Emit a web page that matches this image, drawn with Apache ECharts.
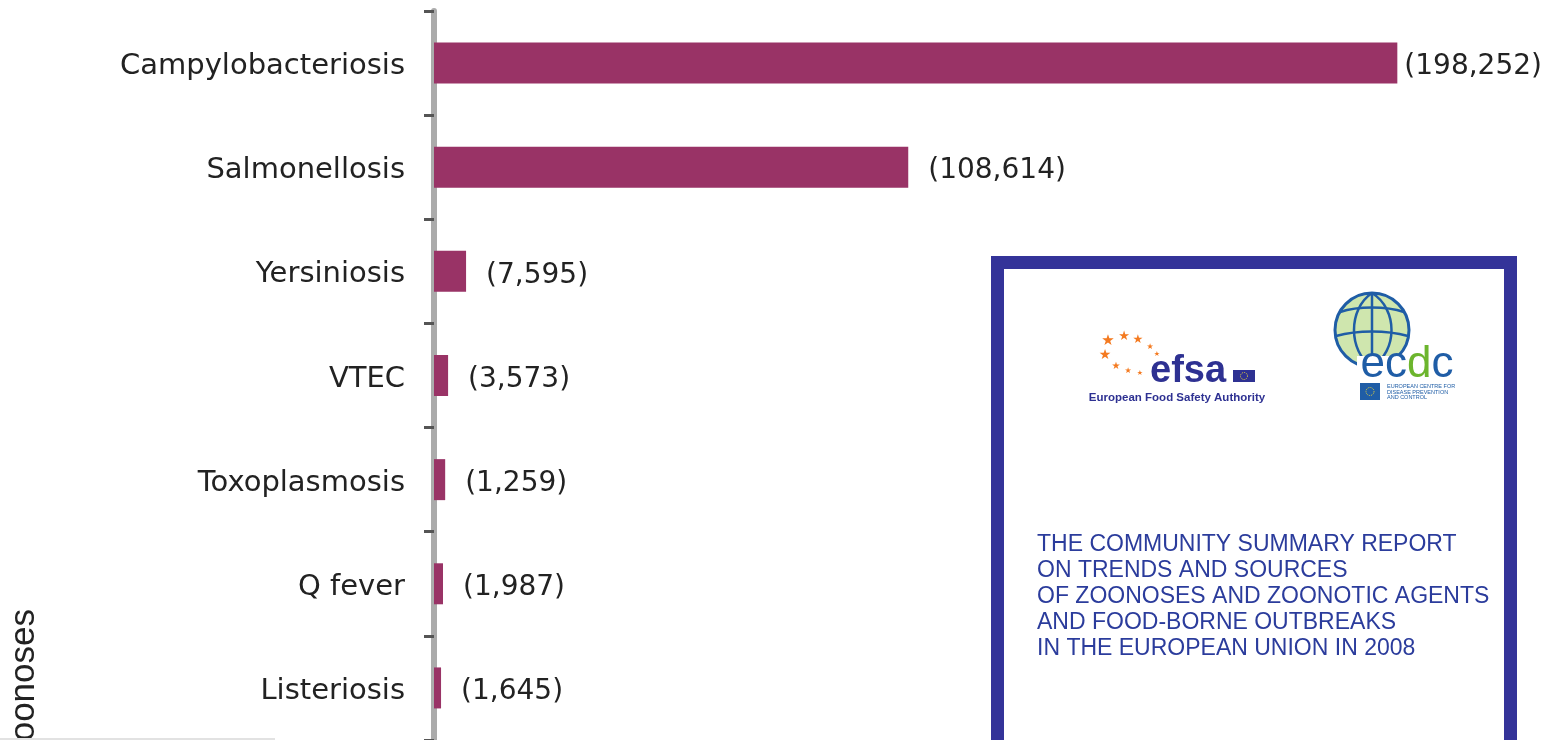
<!DOCTYPE html>
<html>
<head>
  <meta charset="utf-8" />
  <title>Zoonoses cases in the EU, 2008</title>
  <script src="https://cdn.jsdelivr.net/npm/echarts@6/dist/echarts.min.js"></script>
  <style>
    html, body { margin: 0; padding: 0; background: #fff; }
  </style>
</head>
<body>
  <div id="chart" style="width:1551px;height:740px;"></div>
  <script type="text/javascript">

    // Data
    let categories = ['Campylobacteriosis', 'Salmonellosis', 'Yersiniosis', 'VTEC',
      'Toxoplasmosis', 'Q fever', 'Listeriosis'];
    // bar lengths as drawn in the picture
    let barValues = [198252, 97600, 6600, 2900, 2300, 1850, 1450];
    // reported numbers printed next to the bars
    let caseLabels = ['(198,252)', '(108,614)', '(7,595)', '(3,573)', '(1,259)', '(1,987)', '(1,645)'];

    let reportTitle = 'THE COMMUNITY SUMMARY REPORT\nON TRENDS AND SOURCES\nOF ZOONOSES AND ZOONOTIC AGENTS\nAND FOOD-BORNE OUTBREAKS\nIN THE EUROPEAN UNION IN 2008';

    var chart = echarts.init(document.getElementById('chart'));

    var blue = '#2e3192';
    var ecdcBlue = '#1f5da6';
    var ecdcGreen = '#6cb52d';
    var orange = '#f47a20';

    // efsa stars, around the "e"
    var stars = [
      [1108, 341, 15], [1124, 337, 13], [1138, 340, 12], [1105, 355, 14],
      [1150, 347, 8], [1157, 354, 7], [1116, 366, 10], [1128, 371, 8], [1140, 373, 7]
    ];

    var graphics = [
      // rotated axis title, cut off at the bottom
      {
        type: 'text', x: 24, y: 609, rotation: Math.PI / 2, z: 10,
        style: {
          text: 'Zoonoses', fontFamily: 'Liberation Sans', fontSize: 35, fill: '#222',
          align: 'right', verticalAlign: 'middle'
        }
      },
      {
        type: 'line', z: 10,
        shape: { x1: 0, y1: 739, x2: 275, y2: 739 },
        style: { stroke: '#e2e2e2', lineWidth: 2 }
      },
      // report cover frame
      {
        type: 'rect', z: 10,
        shape: { x: 997.5, y: 262.5, width: 513, height: 600 },
        style: { fill: '#fff', stroke: '#343399', lineWidth: 13 }
      },
      {
        type: 'text', x: 1037, y: 532, z: 11,
        style: {
          text: reportTitle, fontFamily: 'Liberation Sans', fontSize: 23, lineHeight: 26,
          fill: '#2b3c9c', align: 'left', verticalAlign: 'top'
        }
      },
      // efsa logo
      {
        type: 'text', x: 1150, y: 391, z: 11,
        style: {
          text: 'efsa', fontFamily: 'Liberation Sans', fontSize: 38, fontWeight: 'bold', fill: blue,
          align: 'left', verticalAlign: 'bottom'
        }
      },
      {
        type: 'rect', z: 11,
        shape: { x: 1233, y: 370, width: 22, height: 12 },
        style: { fill: blue }
      },
      {
        type: 'circle', z: 12,
        shape: { cx: 1244, cy: 376, r: 3.5 },
        style: { fill: 'none', stroke: '#e8d43a', lineWidth: 1, lineDash: [1, 1] }
      },
      {
        type: 'text', x: 1177, y: 398, z: 11,
        style: {
          text: 'European Food Safety Authority', fontFamily: 'Liberation Sans', fontSize: 11.5,
          fontWeight: 'bold', fill: blue, align: 'center', verticalAlign: 'middle'
        }
      },
      // ecdc logo: globe
      {
        type: 'circle', z: 11,
        shape: { cx: 1372, cy: 330, r: 37 },
        style: { fill: '#cfe6ae', stroke: ecdcBlue, lineWidth: 3 }
      },
      {
        type: 'bezierCurve', z: 12,
        shape: { x1: 1372, y1: 293, x2: 1372, y2: 367, cpx1: 1348, cpy1: 309, cpx2: 1348, cpy2: 351 },
        style: { stroke: ecdcBlue, lineWidth: 2.5, fill: 'none' }
      },
      {
        type: 'bezierCurve', z: 12,
        shape: { x1: 1372, y1: 293, x2: 1372, y2: 367, cpx1: 1398, cpy1: 309, cpx2: 1398, cpy2: 351 },
        style: { stroke: ecdcBlue, lineWidth: 2.5, fill: 'none' }
      },
      {
        type: 'line', z: 12,
        shape: { x1: 1372, y1: 293, x2: 1372, y2: 367 },
        style: { stroke: ecdcBlue, lineWidth: 2.5 }
      },
      {
        type: 'bezierCurve', z: 12,
        shape: { x1: 1340, y1: 312, x2: 1404, y2: 312, cpx1: 1358, cpy1: 306, cpx2: 1386, cpy2: 306 },
        style: { stroke: ecdcBlue, lineWidth: 2.5, fill: 'none' }
      },
      {
        type: 'bezierCurve', z: 12,
        shape: { x1: 1336, y1: 336, x2: 1408, y2: 336, cpx1: 1358, cpy1: 330, cpx2: 1386, cpy2: 330 },
        style: { stroke: ecdcBlue, lineWidth: 2.5, fill: 'none' }
      },
      {
        type: 'rect', z: 13,
        shape: { x: 1357, y: 356, width: 102, height: 24 },
        style: { fill: '#fff' }
      },
      {
        type: 'text', x: 1407, y: 387, z: 14,
        style: {
          text: '{b|ec}{g|d}{b|c}', align: 'center', verticalAlign: 'bottom',
          rich: {
            b: { fontFamily: 'Liberation Sans', fontSize: 44, fill: ecdcBlue },
            g: { fontFamily: 'Liberation Sans', fontSize: 44, fill: ecdcGreen }
          }
        }
      },
      {
        type: 'rect', z: 11,
        shape: { x: 1360, y: 383, width: 20, height: 17 },
        style: { fill: ecdcBlue }
      },
      {
        type: 'circle', z: 12,
        shape: { cx: 1370, cy: 391.5, r: 4 },
        style: { fill: 'none', stroke: '#e8d43a', lineWidth: 1, lineDash: [1, 1] }
      },
      {
        type: 'text', x: 1387, y: 384, z: 11,
        style: {
          text: 'EUROPEAN CENTRE FOR\nDISEASE PREVENTION\nAND CONTROL', fontFamily: 'Liberation Sans',
          fontSize: 5.5, lineHeight: 5.5, fill: ecdcBlue, align: 'left', verticalAlign: 'top'
        }
      }
    ];

    stars.forEach(function (s) {
      graphics.push({
        type: 'text', x: s[0], y: s[1], z: 11,
        style: {
          text: '\u2605', fontFamily: 'DejaVu Sans', fontSize: s[2], fill: orange,
          align: 'center', verticalAlign: 'middle'
        }
      });
    });

    var option = {
      animation: false,
      grid: {
        left: 434,
        top: 11,
        width: 1069,
        height: 734
      },
      xAxis: {
        type: 'value',
        min: 0,
        max: 220000,
        show: false
      },
      yAxis: {
        type: 'category',
        inverse: true,
        data: categories,
        axisLine: {
          show: true,
          lineStyle: { color: '#ababab', width: 6 }
        },
        axisTick: {
          show: true,
          length: 10,
          lineStyle: { color: '#555', width: 3 }
        },
        axisLabel: {
          margin: 29,
          formatter: '{c|{value}}',
          rich: {
            c: {
              fontFamily: 'DejaVu Sans',
              fontSize: 29,
              color: '#222',
              padding: [7, 0, 0, 0]
            }
          }
        },
        splitLine: { show: false }
      },
      series: [
        {
          name: 'Cases',
          type: 'bar',
          barWidth: 41,
          itemStyle: { color: '#993366' },
          data: barValues.map(function (v, i) {
            return {
              value: v,
              label: { distance: i === 0 ? 7 : 20 }
            };
          }),
          label: {
            show: true,
            position: 'right',
            offset: [0, 4],
            fontFamily: 'DejaVu Sans',
            fontSize: 28,
            color: '#222',
            formatter: function (p) {
              return caseLabels[p.dataIndex];
            }
          }
        }
      ],
      graphic: graphics
    };

    chart.setOption(option);
  </script>
</body>
</html>
